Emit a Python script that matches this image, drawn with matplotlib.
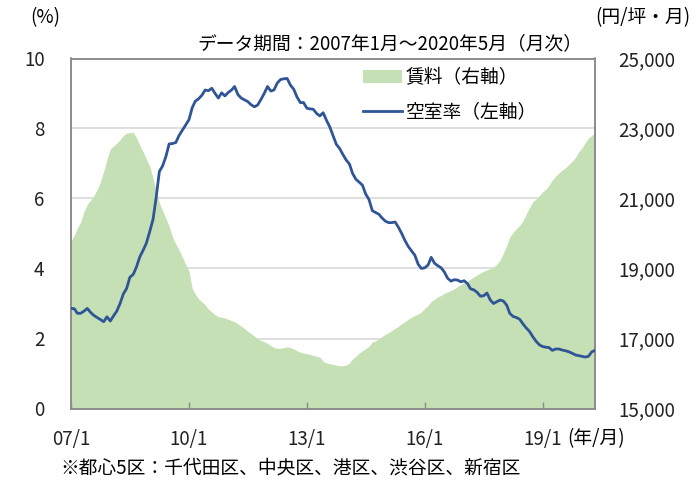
import pandas as pd
import matplotlib
matplotlib.use("Agg")
import matplotlib.pyplot as plt
from matplotlib.patches import Patch
from matplotlib.lines import Line2D

plt.rcParams['font.family'] = ['Noto Sans CJK JP', 'DejaVu Sans']

# 空室率（%）2007/1〜2020/5 月次
vacancy = [
    2.86, 2.85, 2.72, 2.72, 2.78, 2.86, 2.75, 2.66, 2.60, 2.54, 2.48, 2.62,
    2.50, 2.65, 2.78, 3.00, 3.27, 3.43, 3.75, 3.83, 4.05, 4.33, 4.52, 4.72,
    5.05, 5.40, 6.00, 6.77, 6.93, 7.20, 7.56, 7.57, 7.60, 7.80, 7.95, 8.10,
    8.25, 8.60, 8.78, 8.85, 8.95, 9.10, 9.08, 9.15, 9.00, 8.87, 9.02, 8.93,
    9.03, 9.10, 9.20, 8.97, 8.87, 8.82, 8.77, 8.68, 8.62, 8.67, 8.83, 9.00,
    9.20, 9.07, 9.10, 9.30, 9.40, 9.42, 9.43, 9.24, 9.12, 8.90, 8.74, 8.74,
    8.58, 8.56, 8.55, 8.43, 8.36, 8.45, 8.24, 8.05, 7.80, 7.55, 7.43, 7.26,
    7.10, 6.98, 6.72, 6.55, 6.47, 6.38, 6.13, 5.97, 5.65, 5.60, 5.55, 5.44,
    5.35, 5.31, 5.31, 5.33, 5.18, 5.00, 4.80, 4.63, 4.50, 4.38, 4.12, 4.00,
    4.02, 4.10, 4.32, 4.15, 4.08, 4.02, 3.90, 3.72, 3.64, 3.68, 3.67, 3.62,
    3.65, 3.57, 3.42, 3.39, 3.32, 3.21, 3.22, 3.30, 3.10, 3.00, 3.05, 3.10,
    3.07, 2.95, 2.72, 2.63, 2.60, 2.55, 2.42, 2.30, 2.20, 2.05, 1.92, 1.82,
    1.77, 1.75, 1.74, 1.66, 1.70, 1.70, 1.67, 1.65, 1.62, 1.58, 1.53, 1.51,
    1.49, 1.47, 1.49, 1.62, 1.66,
]

# 賃料（円/坪・月）
rent = [
    19800, 19950, 20150, 20330, 20620, 20830, 20950, 21080, 21250, 21480, 21780, 22120,
    22410, 22500, 22580, 22680, 22800, 22870, 22880, 22890, 22730, 22520, 22330, 22120,
    21930, 21580, 21230, 20880, 20650, 20430, 20200, 19900, 19700, 19530, 19330, 19120,
    18930, 18420, 18270, 18130, 18050, 17960, 17840, 17760, 17680, 17620, 17610, 17590,
    17550, 17510, 17480, 17420, 17350, 17290, 17210, 17140, 17070, 16990, 16940, 16910,
    16860, 16800, 16740, 16720, 16720, 16740, 16760, 16740, 16700, 16650, 16610, 16580,
    16570, 16540, 16520, 16490, 16470, 16350, 16300, 16280, 16260, 16240, 16220, 16220,
    16240, 16300, 16410, 16500, 16580, 16650, 16710, 16780, 16900, 16930, 16990, 17060,
    17120, 17170, 17230, 17290, 17350, 17420, 17480, 17550, 17610, 17660, 17700, 17760,
    17860, 17940, 18060, 18120, 18190, 18230, 18290, 18330, 18370, 18420, 18480, 18540,
    18590, 18630, 18700, 18760, 18820, 18870, 18920, 18960, 19000, 19040, 19120, 19240,
    19440, 19660, 19900, 20030, 20140, 20230, 20360, 20560, 20740, 20900, 20990, 21080,
    21190, 21270, 21380, 21530, 21640, 21730, 21810, 21880, 21970, 22060, 22170, 22330,
    22440, 22600, 22720, 22800, 22860,
]

months = pd.date_range("2007-01-01", periods=len(vacancy), freq="MS")

xtick_dates = pd.to_datetime(["2007-01-01", "2010-01-01", "2013-01-01", "2016-01-01", "2019-01-01"])
xtick_labels = ["07/1", "10/1", "13/1", "16/1", "19/1"]
left_ticks = [0, 2, 4, 6, 8, 10]
right_ticks = [15000, 17000, 19000, 21000, 23000, 25000]

green = "#c5e0b4"
blue = "#2f5597"
edge = "#8c8c8c"
fs = 13.5

fig = plt.figure(figsize=(6.97, 4.84), dpi=100)
ax = fig.add_axes([71 / 697, 1 - 408.5 / 484, 524 / 697, 350 / 484])
ax2 = ax.twinx()

# 賃料（右軸）は面、空室率（左軸）は線を手前に
ax2.fill_between(months, rent, 15000, color=green, linewidth=0, zorder=2)
ax2.set_ylim(15000, 25000)
ax2.set_yticks(right_ticks)
ax2.set_yticklabels([f"{v:,}" for v in right_ticks])
ax2.grid(axis="y", color="#d9d9d9", linewidth=1.2, zorder=0)
ax2.set_axisbelow(True)

ax.plot(months, vacancy, color=blue, linewidth=2.0, zorder=3)
ax.set_ylim(0, 10)
ax.set_yticks(left_ticks)
ax.set_zorder(ax2.get_zorder() + 1)
ax.patch.set_visible(False)

ax.set_xlim(months[0], months[-1])
ax.set_xticks(xtick_dates)
ax.set_xticklabels(xtick_labels)

for a in (ax, ax2):
    for s in a.spines.values():
        s.set_color(edge)
        s.set_linewidth(1.2)
ax.tick_params(axis="x", direction="in", length=5, width=1, color=edge,
               labelsize=fs, pad=15, labelcolor="#222222")
ax.tick_params(axis="y", length=0, labelsize=fs, pad=19, labelcolor="#222222")
ax2.tick_params(axis="y", length=0, labelsize=fs, pad=17, labelcolor="#222222")

handles = [Patch(facecolor=green, edgecolor="none"),
           Line2D([], [], color=blue, linewidth=2.0)]
ax.legend(handles, ["賃料（右軸）", "空室率（左軸）"], loc="upper left",
          bbox_to_anchor=(0.557, 0.975), frameon=False, fontsize=fs,
          borderpad=0, borderaxespad=0, handlelength=2.1, handletextpad=0.2,
          labelspacing=0.7)

fig.text(45 / 697, 1 - 18 / 484, "(%)", ha="center", va="center", fontsize=fs)
fig.text(690 / 697, 1 - 18 / 484, "(円/坪・月)", ha="right", va="center", fontsize=fs)
fig.text(390 / 697, 1 - 44 / 484, "データ期間：2007年1月～2020年5月（月次）",
         ha="center", va="center", fontsize=fs)
fig.text(567 / 697, 1 - 439 / 484, "(年/月)", ha="left", va="center", fontsize=fs)
fig.text(60 / 697, 1 - 468 / 484, "※都心5区：千代田区、中央区、港区、渋谷区、新宿区",
         ha="left", va="center", fontsize=fs)

fig.savefig("out.png", dpi=100)
